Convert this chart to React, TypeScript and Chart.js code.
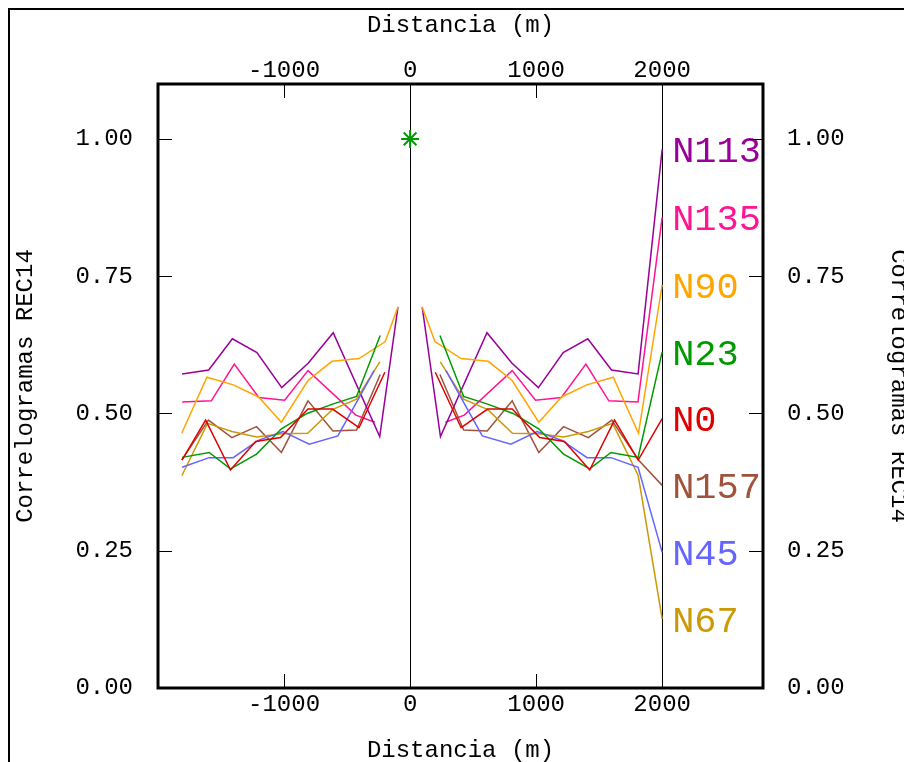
import React, { useEffect, useRef } from 'react';
import { Chart, registerables } from 'chart.js';

Chart.register(...registerables);

// ---------- data ----------
const SERIES_NAMES = ['N0', 'N23', 'N45', 'N67', 'N90', 'N113', 'N135', 'N157'];
const SERIES_COLORS = ['#e00000', '#009a00', '#6464ff', '#cc9906', '#ffa500', '#990099', '#ff1493', '#a0523a'];

const LAGS_N0 = [200, 405, 615, 810, 1028, 1225, 1425, 1622, 1810];
const VALS_N0 = [0.575, 0.474, 0.508, 0.508, 0.456, 0.449, 0.397, 0.488, 0.415];

const LAGS_N23 = [237, 425, 615, 817, 1021, 1218, 1425, 1594, 1809];
const VALS_N23 = [0.642, 0.531, 0.517, 0.5, 0.472, 0.426, 0.399, 0.429, 0.42];

const LAGS_N45 = [285, 573, 800, 1008, 1205, 1404, 1594, 1809];
const VALS_N45 = [0.578, 0.459, 0.444, 0.467, 0.451, 0.4195, 0.4195, 0.402];

const LAGS_N67 = [240, 425, 617, 812, 1021, 1218, 1414, 1607, 1810];
const VALS_N67 = [0.594, 0.526, 0.507, 0.464, 0.463, 0.457, 0.467, 0.482, 0.387];

const LAGS_N90 = [96, 197, 405, 620, 810, 1021, 1202, 1402, 1612, 1812];
const VALS_N90 = [0.694, 0.631, 0.6, 0.595, 0.56, 0.484, 0.53, 0.552, 0.566, 0.464];

const LAGS_N113 = [96, 241, 610, 807, 1018, 1215, 1410, 1598, 1809];
const VALS_N113 = [0.694, 0.458, 0.647, 0.592, 0.547, 0.611, 0.636, 0.579, 0.572];

const LAGS_N135 = [280, 430, 810, 995, 1200, 1395, 1577, 1808];
const VALS_N135 = [0.484, 0.497, 0.578, 0.524, 0.529, 0.59, 0.523, 0.521];

const LAGS_N157 = [237, 425, 612, 810, 1021, 1218, 1414, 1600, 1812];
const VALS_N157 = [0.571, 0.47, 0.468, 0.523, 0.429, 0.476, 0.456, 0.488, 0.415];

// key label anchor (x = LABEL_X) for each series
const LABEL_X = 2000;
const LABEL_Y = [0.4905, 0.612, 0.247, 0.1257, 0.734, 0.981, 0.857, 0.369];

const SERIES_LAGS = [LAGS_N0, LAGS_N23, LAGS_N45, LAGS_N67, LAGS_N90, LAGS_N113, LAGS_N135, LAGS_N157];
const SERIES_VALS = [VALS_N0, VALS_N23, VALS_N45, VALS_N67, VALS_N90, VALS_N113, VALS_N135, VALS_N157];

const ORIGIN_X = [0];
const ORIGIN_Y = [1.0];

const X_TICKS = [-1000, 0, 1000, 2000];
const X_FULL_LINES = [0, 2000];
const Y_TICKS = [0, 0.25, 0.5, 0.75, 1.0];
const X_MIN = -2000;
const X_MAX = 2800;
const Y_MIN = 0;
const Y_MAX = 1.1;

const X_TITLE = 'Distancia (m)';
const Y_TITLE = 'Correlogramas REC14';

// ---------- chart ----------
const FONT = "'Liberation Mono', 'DejaVu Sans Mono', monospace";
const W = 916;
const H = 762;

const decorPlugin = {
  id: 'decor',
  beforeDatasetsDraw(chart: any) {
    const { ctx, chartArea: a, scales } = chart;
    ctx.save();
    ctx.strokeStyle = '#000';
    ctx.lineWidth = 1;
    X_FULL_LINES.forEach((v) => {
      const px = Math.round(scales.x.getPixelForValue(v)) + 0.5;
      ctx.beginPath();
      ctx.moveTo(px, a.top);
      ctx.lineTo(px, a.bottom);
      ctx.stroke();
    });
    ctx.restore();
  },
  afterDatasetsDraw(chart: any) {
    const { ctx, chartArea: a, scales } = chart;
    ctx.save();
    // key labels
    ctx.font = `37px ${FONT}`;
    ctx.textBaseline = 'middle';
    ctx.textAlign = 'left';
    SERIES_NAMES.forEach((name, i) => {
      ctx.fillStyle = SERIES_COLORS[i];
      ctx.fillText(name, scales.x.getPixelForValue(LABEL_X) + 10, scales.y.getPixelForValue(LABEL_Y[i]) + 3);
    });
    // tick marks
    ctx.strokeStyle = '#000';
    ctx.lineWidth = 1;
    const TL = 14;
    X_TICKS.forEach((v) => {
      const px = Math.round(scales.x.getPixelForValue(v)) + 0.5;
      ctx.beginPath();
      ctx.moveTo(px, a.top);
      ctx.lineTo(px, a.top + TL);
      ctx.moveTo(px, a.bottom);
      ctx.lineTo(px, a.bottom - TL);
      ctx.stroke();
    });
    Y_TICKS.forEach((v) => {
      const py = Math.round(scales.y.getPixelForValue(v)) + 0.5;
      ctx.beginPath();
      ctx.moveTo(a.left, py);
      ctx.lineTo(a.left + TL, py);
      ctx.moveTo(a.right, py);
      ctx.lineTo(a.right - TL, py);
      ctx.stroke();
    });
    // plot border
    ctx.lineWidth = 3;
    ctx.strokeRect(a.left, a.top, a.right - a.left, a.bottom - a.top);
    ctx.restore();
  },
  afterDraw(chart: any) {
    const { ctx } = chart;
    ctx.save();
    ctx.strokeStyle = '#000';
    ctx.lineWidth = 2;
    ctx.beginPath();
    ctx.moveTo(9, H + 5);
    ctx.lineTo(9, 9);
    ctx.lineTo(W + 5, 9);
    ctx.stroke();
    ctx.restore();
  },
};

function buildDatasets() {
  const ds: any[] = [];
  SERIES_NAMES.forEach((name, i) => {
    const lags = SERIES_LAGS[i];
    const vals = SERIES_VALS[i];
    const left = lags.map((l, j) => ({ x: -l, y: vals[j] })).reverse();
    const right = lags.map((l, j) => ({ x: l, y: vals[j] }));
    right.push({ x: LABEL_X, y: LABEL_Y[i] });
    const common = {
      showLine: true,
      borderColor: SERIES_COLORS[i],
      backgroundColor: SERIES_COLORS[i],
      borderWidth: 1.5,
      pointRadius: 0,
      tension: 0,
      fill: false,
    };
    ds.push({ ...common, label: name + ' -', data: left });
    ds.push({ ...common, label: name, data: right });
  });
  ds.push({
    label: 'origin',
    data: ORIGIN_X.map((x, i) => ({ x, y: ORIGIN_Y[i] })),
    showLine: false,
    pointStyle: 'star',
    pointRadius: 9,
    borderWidth: 2,
    borderColor: '#009a00',
    backgroundColor: '#009a00',
  });
  return ds;
}

const tickFont = { family: FONT, size: 24 };
const titleFont = { family: FONT, size: 24, lineHeight: 1 };

export default function App() {
  const ref = useRef<HTMLCanvasElement | null>(null);
  useEffect(() => {
    if (!ref.current) return;
    const chart = new Chart(ref.current, {
      type: 'scatter',
      data: { datasets: buildDatasets() },
      options: {
        responsive: false,
        animation: false,
        devicePixelRatio: 1,
        layout: { padding: 0 },
        plugins: { legend: { display: false }, tooltip: { enabled: false } },
        scales: {
          x: {
            type: 'linear',
            position: 'bottom',
            min: X_MIN,
            max: X_MAX,
            afterBuildTicks: (s: any) => { s.ticks = X_TICKS.map((v) => ({ value: v })); },
            afterFit: (s: any) => { s.height = H - 688; },
            grid: { display: false },
            border: { display: false },
            ticks: { font: tickFont, color: '#000', padding: -6, maxRotation: 0, autoSkip: false, callback: (v: any) => String(v) },
            title: { display: true, text: X_TITLE, font: titleFont, color: '#000', padding: { top: 0, bottom: -1 } },
          },
          x2: {
            type: 'linear',
            position: 'top',
            min: X_MIN,
            max: X_MAX,
            afterBuildTicks: (s: any) => { s.ticks = X_TICKS.map((v) => ({ value: v })); },
            afterFit: (s: any) => { s.height = 84; },
            grid: { display: false },
            border: { display: false },
            ticks: { font: tickFont, color: '#000', padding: -9, maxRotation: 0, autoSkip: false, callback: (v: any) => String(v) },
            title: { display: true, text: X_TITLE, font: titleFont, color: '#000', padding: { top: 14, bottom: 0 } },
          },
          y: {
            type: 'linear',
            position: 'left',
            min: Y_MIN,
            max: Y_MAX,
            afterBuildTicks: (s: any) => { s.ticks = Y_TICKS.map((v) => ({ value: v })); },
            afterFit: (s: any) => { s.width = 158; },
            grid: { display: false },
            border: { display: false },
            ticks: { font: tickFont, color: '#000', padding: 17, autoSkip: false, callback: (v: any) => Number(v).toFixed(2) },
            title: { display: true, text: Y_TITLE, font: titleFont, color: '#000', padding: { top: 14, bottom: 0 } },
          },
          y2: {
            type: 'linear',
            position: 'right',
            min: Y_MIN,
            max: Y_MAX,
            afterBuildTicks: (s: any) => { s.ticks = Y_TICKS.map((v) => ({ value: v })); },
            afterFit: (s: any) => { s.width = W - 763; },
            grid: { display: false },
            border: { display: false },
            ticks: { font: tickFont, color: '#000', padding: 16, autoSkip: false, callback: (v: any) => Number(v).toFixed(2) },
            title: { display: true, text: Y_TITLE, font: titleFont, color: '#000', padding: { top: 6, bottom: 0 } },
          },
        },
      },
      plugins: [decorPlugin],
    } as any);
    return () => chart.destroy();
  }, []);

  return (
    <div style={{ position: 'fixed', left: 0, top: 0, width: 904, height: 762, overflow: 'hidden', background: '#fff' }}>
      <canvas ref={ref} width={W} height={H} style={{ display: 'block', width: W, height: H }} />
    </div>
  );
}
